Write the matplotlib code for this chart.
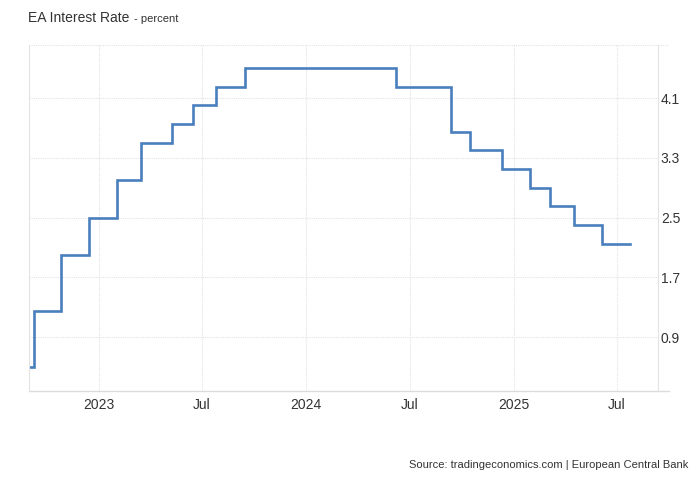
import matplotlib.pyplot as plt
from matplotlib.lines import Line2D
import pandas as pd

# ECB rate decisions and the rate after each one
dates = ['2022-09-01', '2022-09-08', '2022-10-27', '2022-12-15', '2023-02-02',
         '2023-03-16', '2023-05-09', '2023-06-15', '2023-07-26', '2023-09-15',
         '2024-06-07', '2024-09-12', '2024-10-16', '2024-12-11', '2025-01-29',
         '2025-03-05', '2025-04-17', '2025-06-04', '2025-07-23']
rates = [0.50, 1.25, 2.00, 2.50, 3.00,
         3.50, 3.75, 4.00, 4.25, 4.50,
         4.25, 3.65, 3.40, 3.15, 2.90,
         2.65, 2.40, 2.15, 2.15]

x_ticks = ['2023-01-01', '2023-07-01', '2024-01-01', '2024-07-01', '2025-01-01', '2025-07-01']
x_labels = ['2023', 'Jul', '2024', 'Jul', '2025', 'Jul']
y_ticks = [0.9, 1.7, 2.5, 3.3, 4.1]

plt.rcParams['font.family'] = ['Liberation Sans', 'DejaVu Sans']

fig = plt.figure(figsize=(7, 4.78), dpi=100)
W, H = 700, 478
ax = fig.add_axes([29 / W, (H - 391) / H, (658 - 29) / W, (391 - 45) / H])

x = pd.to_datetime(dates)
ax.step(x, rates, where='post', color='#4a7fbd', linewidth=1.9, solid_joinstyle='miter')

ax.set_xlim(pd.Timestamp('2022-08-31'), pd.Timestamp('2025-09-11'))
ax.set_ylim(0.177, 4.81)

ax.set_xticks(pd.to_datetime(x_ticks))
ax.set_xticklabels(x_labels)
ax.set_yticks(y_ticks)
ax.set_yticklabels([f'{v:.1f}' for v in y_ticks])
ax.yaxis.tick_right()
ax.tick_params(axis='x', length=0, pad=5, labelsize=10, labelcolor='#333333')
ax.tick_params(axis='y', length=0, pad=2, labelsize=10, labelcolor='#333333')

ax.grid(True, color='#e3e3e3', linestyle=(0, (1, 1)), linewidth=0.8)
ax.set_axisbelow(True)

for side in ['left', 'right']:
    ax.spines[side].set_color('#e3e3e3')
    ax.spines[side].set_linewidth(0.8)
ax.spines['top'].set_visible(False)
ax.spines['bottom'].set_visible(False)

# top dotted line and bottom axis line, both running a bit past the right axis
ext = (669 - 29) / (658 - 29)
ax.add_line(Line2D([0, ext], [1, 1], transform=ax.transAxes, color='#e3e3e3',
                   linestyle=(0, (1, 1)), linewidth=0.8, clip_on=False))
ax.add_line(Line2D([0, ext], [0, 0], transform=ax.transAxes, color='#dcdcdc',
                   linewidth=1.0, clip_on=False))

fig.text(28 / W, 1 - 18 / H, 'EA Interest Rate', fontsize=10, color='#333333', va='center')
fig.text(134 / W, 1 - 19 / H, '- percent', fontsize=8, color='#333333', va='center')
fig.text(688 / W, 1 - 465 / H, 'Source: tradingeconomics.com | European Central Bank',
         fontsize=8, color='#333333', ha='right', va='center')

fig.savefig('out.png', dpi=100)
